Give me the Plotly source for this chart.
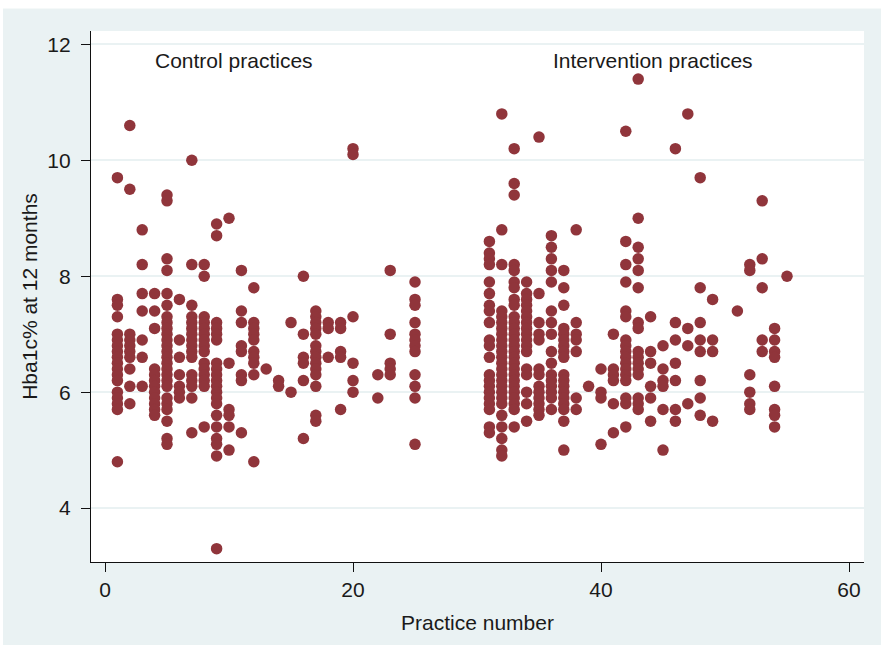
import plotly.graph_objects as go

# HbA1c% at 12 months, per practice
control = {
    1: [9.7, 7.6, 7.5, 7.3, 7.0, 6.9, 6.8, 6.7, 6.6, 6.5, 6.4, 6.3, 6.2, 6.0, 5.9, 5.8, 5.7, 4.8],
    2: [10.6, 9.5, 7.0, 6.9, 6.8, 6.7, 6.6, 6.4, 6.1, 5.8],
    3: [8.8, 8.2, 7.7, 7.4, 6.9, 6.6, 6.1],
    4: [7.7, 7.4, 7.1, 6.4, 6.3, 6.2, 6.1, 6.0, 5.9, 5.8, 5.7, 5.6],
    5: [9.4, 9.3, 8.3, 8.1, 7.7, 7.5, 7.3, 7.2, 7.1, 7.0, 6.9, 6.8, 6.7, 6.6, 6.5, 6.4,
        6.3, 6.2, 6.1, 5.9, 5.8, 5.7, 5.5, 5.2, 5.1],
    6: [7.6, 6.9, 6.6, 6.3, 6.1, 6.0, 5.9],
    7: [10.0, 8.2, 7.5, 7.3, 7.2, 7.1, 7.0, 6.9, 6.8, 6.7, 6.6, 6.3, 6.2, 6.1, 5.9, 5.3],
    8: [8.2, 8.0, 7.3, 7.2, 7.1, 7.0, 6.9, 6.8, 6.7, 6.5, 6.4, 6.3, 6.2, 6.1, 5.4],
    9: [8.9, 8.7, 7.2, 7.1, 7.0, 6.9, 6.5, 6.4, 6.3, 6.2, 6.1, 6.0, 5.9, 5.8, 5.6, 5.4,
        5.2, 5.1, 4.9, 3.3],
    10: [9.0, 6.5, 5.7, 5.6, 5.4, 5.0],
    11: [8.1, 7.4, 7.2, 6.8, 6.7, 6.3, 6.2, 5.3],
    12: [7.8, 7.2, 7.1, 7.0, 6.9, 6.7, 6.6, 6.5, 6.3, 4.8],
    13: [6.4],
    14: [6.2, 6.1],
    15: [7.2, 6.0],
    16: [8.0, 7.0, 6.6, 6.5, 6.2, 5.2],
    17: [7.4, 7.3, 7.2, 7.1, 7.0, 6.8, 6.7, 6.6, 6.5, 6.4, 6.3, 6.1, 5.6, 5.5],
    18: [7.2, 7.1, 6.6],
    19: [7.2, 7.1, 6.7, 6.6, 5.7],
    20: [10.2, 10.1, 7.3, 6.5, 6.2, 6.0],
    22: [6.3, 5.9],
    23: [8.1, 7.0, 6.5, 6.4, 6.3],
    25: [7.9, 7.6, 7.5, 7.2, 7.0, 6.9, 6.8, 6.7, 6.3, 6.1, 5.9, 5.1],
}

intervention = {
    31: [8.6, 8.4, 8.3, 8.2, 7.9, 7.7, 7.5, 7.4, 7.2, 6.9, 6.8, 6.6, 6.3, 6.2, 6.1, 6.0,
         5.9, 5.8, 5.7, 5.4, 5.3],
    32: [10.8, 8.8, 8.2, 7.4, 7.3, 7.2, 7.1, 7.0, 6.9, 6.8, 6.7, 6.6, 6.5, 6.4, 6.3, 6.2,
         6.1, 6.0, 5.9, 5.8, 5.6, 5.4, 5.2, 5.0, 4.9],
    33: [10.2, 9.6, 9.4, 8.2, 8.1, 7.9, 7.8, 7.6, 7.5, 7.3, 7.2, 7.1, 7.0, 6.9, 6.8, 6.7,
         6.6, 6.5, 6.4, 6.3, 6.2, 6.1, 6.0, 5.9, 5.8, 5.7, 5.4],
    34: [7.9, 7.7, 7.6, 7.5, 7.4, 7.3, 7.2, 7.1, 7.0, 6.9, 6.8, 6.7, 6.4, 6.3, 6.0, 5.8, 5.5],
    35: [10.4, 7.7, 7.2, 7.0, 6.9, 6.4, 6.3, 6.1, 6.0, 5.9, 5.8, 5.7, 5.6],
    36: [8.7, 8.5, 8.3, 8.1, 7.9, 7.4, 7.2, 7.0, 6.7, 6.5, 6.3, 6.2, 6.1, 6.0, 5.9, 5.7],
    37: [8.1, 7.8, 7.5, 7.1, 7.0, 6.9, 6.8, 6.7, 6.6, 6.3, 6.2, 6.1, 6.0, 5.9, 5.8, 5.7,
         5.5, 5.0],
    38: [8.8, 7.2, 7.0, 6.9, 6.7, 5.9, 5.7],
    39: [6.1],
    40: [6.4, 6.0, 5.9, 5.1],
    41: [7.0, 6.4, 6.3, 6.2, 5.8, 5.3],
    42: [10.5, 8.6, 8.2, 7.9, 7.4, 7.3, 6.9, 6.8, 6.7, 6.6, 6.5, 6.4, 6.3, 6.2, 5.9, 5.8, 5.4],
    43: [11.4, 9.0, 8.5, 8.3, 8.1, 7.8, 7.2, 7.1, 6.7, 6.6, 6.5, 6.4, 6.3, 5.9, 5.8, 5.7],
    44: [7.3, 6.7, 6.5, 6.1, 5.9, 5.5],
    45: [6.8, 6.4, 6.2, 6.1, 5.7, 5.0],
    46: [10.2, 7.2, 6.9, 6.5, 6.2, 5.7, 5.5],
    47: [10.8, 7.1, 6.8, 5.8],
    48: [9.7, 7.8, 7.2, 6.9, 6.7, 6.2, 5.9, 5.6],
    49: [7.6, 6.9, 6.7, 5.5],
    51: [7.4],
    52: [8.2, 8.1, 6.3, 6.0, 5.8, 5.7],
    53: [9.3, 8.3, 7.8, 6.9, 6.7],
    54: [7.1, 6.9, 6.7, 6.6, 6.1, 5.7, 5.6, 5.4],
    55: [8.0],
}

x_ticks = [0, 20, 40, 60]
y_ticks = [4, 6, 8, 10, 12]
group_labels = ["Control practices", "Intervention practices"]
x_title = "Practice number"
y_title = "Hba1c% at 12 months"

BG = "#eaf2f3"
MARK = "#90353b"
FONT = "Liberation Sans, Arial, Helvetica, sans-serif"
FS = 21


def flatten(groups):
    xs, ys = [], []
    for p, vals in groups.items():
        for v in vals:
            xs.append(p)
            ys.append(v)
    return xs, ys


fig = go.Figure()
for name, grp in (("Control", control), ("Intervention", intervention)):
    xs, ys = flatten(grp)
    fig.add_trace(go.Scatter(
        x=xs, y=ys, mode="markers", name=name,
        marker=dict(color=MARK, size=11.5, line=dict(width=0)),
        showlegend=False, hoverinfo="x+y",
    ))

fig.add_annotation(x=10.4, y=11.72, text=group_labels[0], showarrow=False,
                   font=dict(size=FS, color="#1a1a1a", family=FONT),
                   xanchor="center", yanchor="middle")
fig.add_annotation(x=44.2, y=11.72, text=group_labels[1], showarrow=False,
                   font=dict(size=FS, color="#1a1a1a", family=FONT),
                   xanchor="center", yanchor="middle")

PW, PH = 773, 531.5
# white outer strips (top 8 px and left 3 px) around the tinted graph region
fig.add_shape(type="rect", xref="paper", yref="paper",
              x0=-91 / PW, x1=800 / PW, y0=1 + 22.5 / PH, y1=1 + 40 / PH,
              fillcolor="white", line=dict(width=0), layer="below")
fig.add_shape(type="rect", xref="paper", yref="paper",
              x0=-100 / PW, x1=-88 / PW, y0=-0.3, y1=1.2,
              fillcolor="white", line=dict(width=0), layer="below")

fig.update_layout(
    width=881, height=645,
    margin=dict(l=91, r=17, t=30.5, b=83),
    paper_bgcolor=BG,
    plot_bgcolor="white",
    font=dict(family=FONT, size=FS, color="#1a1a1a"),
    xaxis=dict(
        range=[-1.13, 61.21], tickvals=x_ticks, ticktext=[str(t) for t in x_ticks],
        showgrid=False, zeroline=False, showline=True, linecolor="#111", linewidth=1.2,
        ticks="outside", ticklen=9, tickwidth=1.2, tickcolor="#111",
        tickfont=dict(size=FS), ticklabelstandoff=0,
        title=dict(text=x_title, font=dict(size=FS), standoff=15),
    ),
    yaxis=dict(
        range=[3.07, 12.23], tickvals=y_ticks, ticktext=[str(t) for t in y_ticks],
        showgrid=True, gridcolor=BG, gridwidth=2,
        zeroline=False, showline=True, linecolor="#111", linewidth=1.2,
        ticks="outside", ticklen=9, tickwidth=1.2, tickcolor="#111",
        tickfont=dict(size=FS), ticklabelstandoff=6,
        title=dict(text=y_title, font=dict(size=FS), standoff=3),
    ),
)

fig.write_html("out.html", config={"displayModeBar": False},
               post_script="document.body.style.margin='0';")
